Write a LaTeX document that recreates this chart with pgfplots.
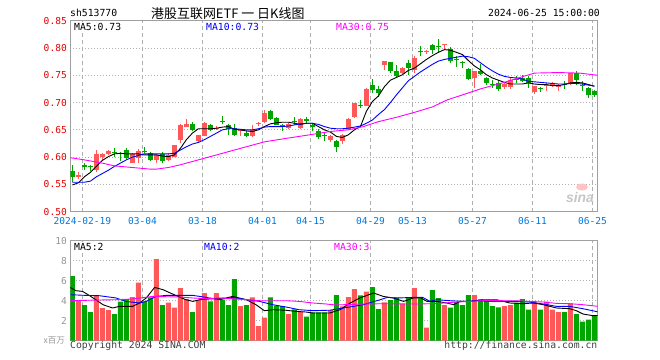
\documentclass[border=0pt]{standalone}
\usepackage{pgfplots}
\pgfplotsset{compat=1.18}
\usepackage{pgfplotstable}
\usepackage{fontspec}
\setmainfont{Liberation Sans}
\setsansfont{Liberation Sans}
\setmonofont{DejaVu Sans Mono}
\newfontfamily\cjk{Noto Sans CJK SC}
\definecolor{upred}{RGB}{255,88,88}
\definecolor{dngreen}{RGB}{0,165,0}
\definecolor{framegray}{RGB}{160,160,160}
\definecolor{gridgray}{RGB}{175,175,175}
\definecolor{datecol}{RGB}{0,120,220}
\definecolor{pricered}{RGB}{230,0,0}
\definecolor{volgray}{RGB}{150,150,150}
\definecolor{ma30}{RGB}{255,0,255}
\definecolor{ma10}{RGB}{0,0,255}

\pgfplotstableread{
x o h l c v
1 0.563 0.573 0.560 0.567 3.97
4 0.576 0.613 0.573 0.605 4.50
5 0.600 0.608 0.594 0.606 3.27
6 0.606 0.613 0.604 0.611 3.07
10 0.590 0.607 0.589 0.605 4.37
11 0.598 0.615 0.590 0.611 5.80
14 0.594 0.606 0.590 0.604 8.17
16 0.594 0.607 0.592 0.604 3.80
17 0.601 0.623 0.600 0.622 3.30
18 0.632 0.660 0.626 0.659 5.27
19 0.656 0.670 0.655 0.661 4.17
21 0.630 0.641 0.627 0.640 4.07
22 0.639 0.665 0.638 0.663 4.77
24 0.652 0.657 0.650 0.654 4.77
28 0.648 0.651 0.639 0.650 3.47
30 0.638 0.659 0.636 0.650 4.33
31 0.661 0.665 0.657 0.663 1.47
32 0.665 0.686 0.663 0.680 2.30
36 0.653 0.662 0.651 0.661 2.67
38 0.653 0.671 0.652 0.670 2.90
43 0.631 0.641 0.628 0.639 3.07
45 0.630 0.643 0.624 0.641 3.43
46 0.651 0.671 0.650 0.670 4.37
47 0.673 0.700 0.671 0.699 5.17
49 0.694 0.727 0.693 0.725 4.90
52 0.768 0.777 0.760 0.776 3.83
55 0.754 0.766 0.753 0.764 3.73
57 0.760 0.785 0.754 0.782 5.27
59 0.793 0.797 0.789 0.795 1.30
62 0.805 0.808 0.798 0.807 3.57
67 0.745 0.758 0.727 0.757 4.57
72 0.728 0.737 0.725 0.734 3.47
73 0.728 0.745 0.725 0.742 3.57
77 0.719 0.731 0.715 0.730 3.90
79 0.731 0.736 0.722 0.733 3.90
80 0.730 0.737 0.729 0.735 3.10
81 0.728 0.734 0.722 0.732 2.87
83 0.734 0.755 0.732 0.754 3.73
}\up

\pgfplotstableread{
x o h l c v
0 0.575 0.586 0.555 0.564 6.47
2 0.585 0.590 0.577 0.582 3.57
3 0.584 0.586 0.574 0.582 2.87
7 0.609 0.616 0.601 0.607 2.67
8 0.608 0.610 0.592 0.606 3.90
9 0.613 0.616 0.596 0.598 4.17
12 0.612 0.619 0.608 0.610 3.90
13 0.607 0.609 0.592 0.595 4.33
15 0.606 0.610 0.589 0.592 3.57
20 0.660 0.665 0.647 0.649 2.87
23 0.658 0.660 0.647 0.649 3.93
25 0.667 0.676 0.660 0.665 4.07
26 0.659 0.661 0.640 0.651 3.57
27 0.653 0.661 0.639 0.641 6.17
29 0.644 0.647 0.636 0.638 3.57
33 0.685 0.687 0.668 0.670 4.33
34 0.671 0.674 0.658 0.659 3.50
35 0.658 0.661 0.647 0.656 3.47
37 0.667 0.673 0.659 0.665 3.13
39 0.669 0.673 0.662 0.667 2.40
40 0.658 0.660 0.647 0.656 2.83
41 0.647 0.651 0.633 0.637 2.83
42 0.641 0.644 0.630 0.639 2.83
44 0.630 0.632 0.610 0.619 4.57
48 0.695 0.705 0.690 0.693 4.53
50 0.733 0.743 0.717 0.723 5.37
51 0.725 0.731 0.711 0.717 3.17
53 0.774 0.775 0.754 0.757 4.07
54 0.757 0.768 0.747 0.748 4.33
56 0.772 0.778 0.751 0.763 4.33
58 0.794 0.804 0.785 0.792 4.33
60 0.806 0.808 0.789 0.797 5.07
61 0.803 0.816 0.791 0.801 4.27
63 0.798 0.802 0.773 0.776 3.30
64 0.780 0.785 0.766 0.778 3.87
65 0.774 0.776 0.763 0.772 3.57
66 0.761 0.763 0.742 0.743 4.57
68 0.758 0.771 0.751 0.753 4.13
69 0.745 0.746 0.733 0.736 3.97
70 0.734 0.742 0.727 0.732 3.47
71 0.736 0.742 0.722 0.725 3.33
74 0.743 0.748 0.736 0.741 3.80
75 0.745 0.750 0.737 0.740 4.17
76 0.745 0.748 0.727 0.735 3.10
78 0.726 0.729 0.719 0.724 3.10
82 0.734 0.740 0.725 0.732 2.87
84 0.755 0.757 0.733 0.742 2.67
85 0.733 0.739 0.722 0.731 1.90
86 0.726 0.728 0.709 0.713 2.10
87 0.721 0.723 0.711 0.714 2.57
}\dn

\begin{document}
\begin{tikzpicture}
\path[use as bounding box] (0bp,0bp) rectangle (660bp,-360bp);
\pgfplotsset{
  kbase/.style={scale only axis, width=527.4bp, xmin=-0.35, xmax=87.55,
    axis line style={draw=framegray, line width=1.2bp},
    major tick length=0pt, tick style={draw=none},
    xtick={1.67,11.67,21.67,31.67,39.67,49.67,56.67,66.67,76.67,86.67},
    xmajorgrids, ymajorgrids,
    x grid style={draw=gridgray, line width=0.9bp, dash pattern=on 4bp off 3bp},
    y grid style={draw=gridgray, line width=0.9bp, dash pattern=on 1bp off 2bp},
    tick label style={font=\ttfamily\fontsize{9.6}{11}\selectfont},
    clip=true},
  wick/.style={draw=none, mark=none, forget plot,
    error bars/.cd, y dir=plus, y explicit, error mark=none,
    error bar style={draw=#1, line width=1bp, solid}},
  body/.style={draw=none, mark=none, forget plot,
    error bars/.cd, y dir=plus, y explicit, error mark=none,
    error bar style={draw=#1, line width=4.8bp, solid, line cap=butt}},
}
\begin{axis}[kbase, at={(70.3bp,-20.7bp)}, anchor=north west, height=191bp,
  ymin=0.5, ymax=0.85, ytick={0.5,0.55,0.6,0.65,0.7,0.75,0.8,0.85},
  yticklabel style={text=pricered, /pgf/number format/.cd, fixed, fixed zerofill, precision=2, assume math mode=true},
  xticklabels={2024-02-19,03-04,03-18,04-01,04-15,04-29,05-13,05-27,06-11,06-25},
  xticklabel style={text=datecol, yshift=-2.2bp}]
\addplot[wick=upred] table[x=x, y=l, y error expr=\thisrow{h}-\thisrow{l}] {\up};
\addplot[body=upred] table[x=x, y=o, y error expr=\thisrow{c}-\thisrow{o}] {\up};
\addplot[wick=dngreen] table[x=x, y=l, y error expr=\thisrow{h}-\thisrow{l}] {\dn};
\addplot[body=dngreen] table[x=x, y=c, y error expr=\thisrow{o}-\thisrow{c}] {\dn};
% MA5
\addplot[black, line width=0.9bp, mark=none] coordinates {(0,0.549)(1,0.553)(2,0.564)(3,0.572)(4,0.583)(5,0.594)(6,0.601)(7,0.606)(8,0.607)(9,0.606)(10,0.606)(11,0.606)(12,0.604)(13,0.604)(14,0.604)(15,0.602)(16,0.601)(17,0.604)(18,0.616)(19,0.632)(20,0.644)(21,0.652)(22,0.652)(23,0.652)(24,0.653)(25,0.655)(26,0.656)(27,0.651)(28,0.650)(29,0.648)(30,0.647)(31,0.650)(32,0.656)(33,0.661)(34,0.663)(35,0.664)(36,0.664)(37,0.662)(38,0.660)(39,0.662)(40,0.662)(41,0.656)(42,0.650)(43,0.646)(44,0.638)(45,0.636)(46,0.641)(47,0.650)(48,0.656)(49,0.684)(50,0.702)(51,0.712)(52,0.729)(53,0.741)(54,0.746)(55,0.751)(56,0.759)(57,0.763)(58,0.771)(59,0.779)(60,0.786)(61,0.792)(62,0.797)(63,0.796)(64,0.792)(65,0.788)(66,0.777)(67,0.767)(68,0.760)(69,0.751)(70,0.745)(71,0.741)(72,0.737)(73,0.734)(74,0.734)(75,0.734)(76,0.736)(77,0.734)(78,0.733)(79,0.733)(80,0.731)(81,0.731)(82,0.733)(83,0.736)(84,0.737)(85,0.736)(86,0.733)(87,0.730)};
% MA10
\addplot[ma10, line width=0.9bp, mark=none] coordinates {(0,0.554)(1,0.554)(2,0.554)(3,0.556)(4,0.564)(5,0.570)(6,0.576)(7,0.583)(8,0.589)(9,0.595)(10,0.600)(11,0.603)(12,0.606)(13,0.606)(14,0.606)(15,0.606)(16,0.606)(17,0.607)(18,0.613)(19,0.619)(20,0.624)(21,0.627)(22,0.632)(23,0.638)(24,0.644)(25,0.650)(26,0.652)(27,0.652)(28,0.651)(29,0.650)(30,0.650)(31,0.652)(32,0.655)(33,0.656)(34,0.656)(35,0.656)(36,0.657)(37,0.659)(38,0.661)(39,0.662)(40,0.662)(41,0.660)(42,0.656)(43,0.653)(44,0.652)(45,0.652)(46,0.653)(47,0.655)(48,0.657)(49,0.662)(50,0.668)(51,0.678)(52,0.687)(53,0.700)(54,0.714)(55,0.727)(56,0.740)(57,0.748)(58,0.756)(59,0.763)(60,0.770)(61,0.776)(62,0.779)(63,0.781)(64,0.783)(65,0.785)(66,0.784)(67,0.781)(68,0.773)(69,0.765)(70,0.758)(71,0.752)(72,0.748)(73,0.746)(74,0.745)(75,0.743)(76,0.739)(77,0.738)(78,0.737)(79,0.736)(80,0.735)(81,0.734)(82,0.734)(83,0.735)(84,0.735)(85,0.734)(86,0.732)(87,0.730)};
% MA30
\addplot[ma30, line width=0.9bp, mark=none] coordinates {(-0.4,0.599)(2,0.595)(5,0.589)(7,0.584)(10,0.581)(13,0.578)(14,0.578)(16,0.581)(18,0.586)(21,0.595)(24,0.604)(27,0.613)(30,0.622)(32,0.628)(36,0.635)(39,0.640)(43,0.647)(46,0.650)(48.5,0.656)(51,0.665)(54,0.673)(57,0.682)(60,0.692)(62.5,0.705)(65,0.714)(68,0.725)(70,0.731)(72,0.737)(74,0.744)(77,0.754)(81,0.755)(84.5,0.754)(87.6,0.750)};
\end{axis}

\begin{axis}[kbase, at={(70.3bp,-240.7bp)}, anchor=north west, height=100bp,
  ymin=0, ymax=10, ytick={2,4,6,8,10},
  yticklabel style={text=volgray, /pgf/number format/assume math mode=true},
  xticklabels={}]
\addplot[ybar, bar width=0.85, bar shift=0pt, fill=upred, draw=none, forget plot] table[x=x, y=v] {\up};
\addplot[ybar, bar width=0.85, bar shift=0pt, fill=dngreen, draw=none, forget plot] table[x=x, y=v] {\dn};
\addplot[black, line width=0.9bp, mark=none] coordinates {(-0.4,5.33)(0.6,5.0)(1.7,4.93)(2.8,4.53)(3.9,4.1)(5.1,3.6)(6.7,3.27)(7.8,3.43)(10,3.43)(11.2,3.77)(12.3,4.27)(13.7,5.33)(15.1,5.1)(16.7,4.67)(18.9,4.1)(20.1,3.93)(21.2,4.1)(23.5,4.2)(25.6,4.27)(26.7,4.43)(29,4.1)(30.6,3.6)(32,3.0)(33.4,3.1)(35.5,3.05)(37.3,2.93)(38.9,2.87)(40.1,2.77)(42.9,2.77)(44.6,3.1)(46.3,3.77)(47.9,4.27)(50.2,4.77)(51.8,4.43)(53.5,4.27)(55.2,3.93)(56.8,4.27)(58,4.3)(59.1,3.93)(60.7,3.93)(62.4,3.77)(63.5,3.6)(64.6,3.93)(66.3,3.93)(68.5,4.1)(70.7,4.1)(72.9,3.77)(75.1,3.7)(76.8,3.77)(78.5,3.6)(80.7,3.27)(82.9,3.2)(84,3.0)(85.1,2.67)(86.8,2.5)(87.7,2.53)};
\addplot[ma10, line width=0.9bp, mark=none] coordinates {(-0.4,4.6)(2.3,4.53)(4.5,4.5)(7.3,4.27)(8.9,3.93)(11.2,3.77)(12.3,3.93)(13.95,4.43)(15.6,4.53)(17.8,4.53)(20.1,4.53)(22.3,4.33)(24.5,4.1)(26.7,4.33)(29,4.1)(31.2,3.93)(33.4,3.6)(35.6,3.37)(37.8,3.1)(40.1,3.0)(42.9,3.05)(45.2,3.27)(48.5,3.6)(51.3,4.1)(52.5,4.33)(54.1,4.27)(56.8,4.33)(58.4,4.33)(59.6,3.93)(60.7,4.1)(62.9,4.0)(65.2,3.93)(67.4,4.0)(69.6,3.93)(71.8,3.93)(74,3.93)(76.1,3.87)(78.5,3.67)(80.7,3.43)(82.9,3.43)(85.1,3.2)(87.7,2.87)};
\addplot[ma30, line width=0.9bp, mark=none] coordinates {(-0.4,4.0)(4.5,4.07)(7.3,4.1)(10,4.17)(13.4,4.43)(15.6,4.4)(17.8,4.37)(20.1,4.27)(22.3,4.2)(24.5,4.27)(26.7,4.2)(29,4.1)(31.2,4.0)(35.6,4.0)(37.8,3.93)(40.1,3.77)(42.3,3.67)(43.4,3.6)(45.2,3.6)(48.5,3.67)(51.8,3.7)(55.2,3.67)(57.5,3.67)(59.6,3.7)(61.9,3.77)(64.1,3.87)(66.3,3.93)(69.1,4.03)(71.8,4.0)(74,4.0)(76.1,3.93)(78.5,3.87)(80.7,3.73)(82.9,3.7)(85.1,3.6)(87.7,3.43)};
\end{axis}

% titles
\tikzset{mono/.style={font=\ttfamily\fontsize{9.8}{11}\selectfont, inner sep=0.5bp}}
\node[mono, anchor=west] at (69.5bp,-13.3bp) {sh513770};
\node[font=\cjk\fontsize{13}{15}\selectfont, anchor=west, inner sep=0pt] at (151bp,-13.3bp) {港股互联网ETF 一 日K线图};
\node[mono, anchor=east] at (600.5bp,-13.3bp) {2024-06-25 15:00:00};
% legends
\node[mono, anchor=west, fill=white] at (73.5bp,-26.5bp) {MA5:0.73};
\node[mono, anchor=west, text=ma10, fill=white] at (205.5bp,-26.5bp) {MA10:0.73};
\node[mono, anchor=west, text=ma30] at (335.5bp,-26.5bp) {MA30:0.75};
\node[mono, anchor=west, fill=white] at (73.5bp,-246.5bp) {MA5:2};
\node[mono, anchor=west, text=ma10, fill=white] at (203.5bp,-246.5bp) {MA10:2};
\node[mono, anchor=west, text=ma30] at (333.5bp,-246.5bp) {MA30:3};
% footer
\node[font=\cjk\fontsize{8.5}{10}\selectfont, text=volgray, anchor=east, inner sep=0pt] at (65bp,-340.5bp) {x百万};
\node[mono, anchor=west, text=black!75] at (69.5bp,-345.5bp) {Copyright 2024 SINA.COM};
\node[mono, anchor=east, text=black!75] at (598bp,-345.5bp) {http://finance.sina.com.cn};
% watermark
\fill[upred!35] (582bp,-187bp) ellipse (6bp and 3.5bp);
\node[font=\sffamily\bfseries\itshape\fontsize{14}{14}\selectfont, text=gray!45, inner sep=0pt] at (580bp,-198bp) {sina};
\end{tikzpicture}
\end{document}
